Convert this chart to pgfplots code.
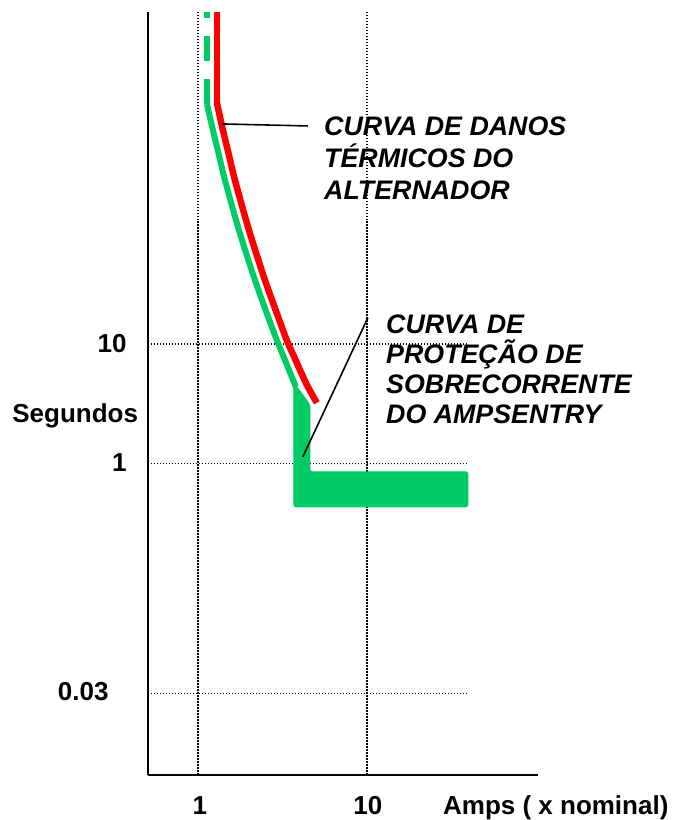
\documentclass[border=0pt]{standalone}
\usepackage{fontspec}
\setmainfont{Liberation Sans}
\usepackage{pgfplots}
\pgfplotsset{compat=1.18}
\definecolor{vgreen}{RGB}{0,204,102}
\definecolor{vred}{RGB}{255,0,0}
\begin{document}
\begin{tikzpicture}
\begin{axis}[
  x=0.5pt, y=0.5pt,
  xmin=148, xmax=538, ymin=45, ymax=808,
  axis lines=left,
  axis line style={-, line width=1pt, black},
  xtick=\empty, ytick=\empty,
  clip=false,
]
% bounding box of the whole picture
\path (axis cs:0,0) rectangle (axis cs:674,820);
% grid lines
\pgfplotsset{gridl/.style={black, line width=0.7pt, dash pattern=on 0.7pt off 0.8pt, forget plot}}
\addplot[gridl] coordinates {(198,45) (198,808)};
\addplot[gridl] coordinates {(367,45) (367,808)};
\addplot[gridl] coordinates {(148,476) (468,476)};
\addplot[gridl] coordinates {(148,356) (468,356)};
\addplot[gridl] coordinates {(148,126) (468,126)};
% green protection curve
\addplot[vgreen, line width=3pt, line cap=butt, dash pattern=on 12.25pt off 9.25pt] coordinates {(207,716) (207,808)};
\addplot[vgreen, line width=3pt, smooth] coordinates {(207,716) (213,690) (219,665) (225,640) (239,590) (255,540) (273,490) (285,460) (296,433)};
\addplot[fill=vgreen, draw=vgreen, line width=0.5pt, rounded corners=1pt] coordinates {(294,437) (310,415) (310,348) (468,348) (468,313) (294,313)} -- cycle;
% red thermal damage curve
\addplot[vred, line width=3.25pt, line cap=butt] coordinates {(217,716) (217,808)};
\addplot[vred, line width=3.25pt, smooth] coordinates {(217,717) (223,690) (229,665) (235,640) (249,590) (265,540) (283,490) (288,477) (297,457) (307,435) (317,417)};
% leader lines
\addplot[black, line width=0.8pt] coordinates {(222,696) (308,694)};
\addplot[black, line width=0.8pt] coordinates {(303,363) (368,502)};
% annotations
\begin{scope}[every node/.style={inner sep=0pt, font=\fontsize{13.4}{16}\selectfont\bfseries\itshape}]
\node[anchor=base west] at (axis cs:324,684) {CURVA DE DANOS};
\node[anchor=base west] at (axis cs:324,652) {TÉRMICOS DO};
\node[anchor=base west] at (axis cs:324,620) {ALTERNADOR};
\node[anchor=base west] at (axis cs:386,486) {CURVA DE};
\node[anchor=base west] at (axis cs:386,456) {PROTEÇÃO DE};
\node[anchor=base west] at (axis cs:386,426) {SOBRECORRENTE};
\node[anchor=base west] at (axis cs:386,396) {DO AMPSENTRY};
\end{scope}
% axis texts
\begin{scope}[every node/.style={inner sep=0pt, font=\fontsize{13}{15}\selectfont\bfseries}]
\node[anchor=base east] at (axis cs:127,467) {10};
\node[anchor=base east] at (axis cs:127,348) {1};
\node[anchor=base east] at (axis cs:109,119) {0.03};
\node[anchor=base west] at (axis cs:12,397) {Segundos};
\node[anchor=base] at (axis cs:200,5) {1};
\node[anchor=base] at (axis cs:368,5) {10};
\node[anchor=base west] at (axis cs:443,5) {Amps ( x nominal)};
\end{scope}
\end{axis}
\end{tikzpicture}
\end{document}
